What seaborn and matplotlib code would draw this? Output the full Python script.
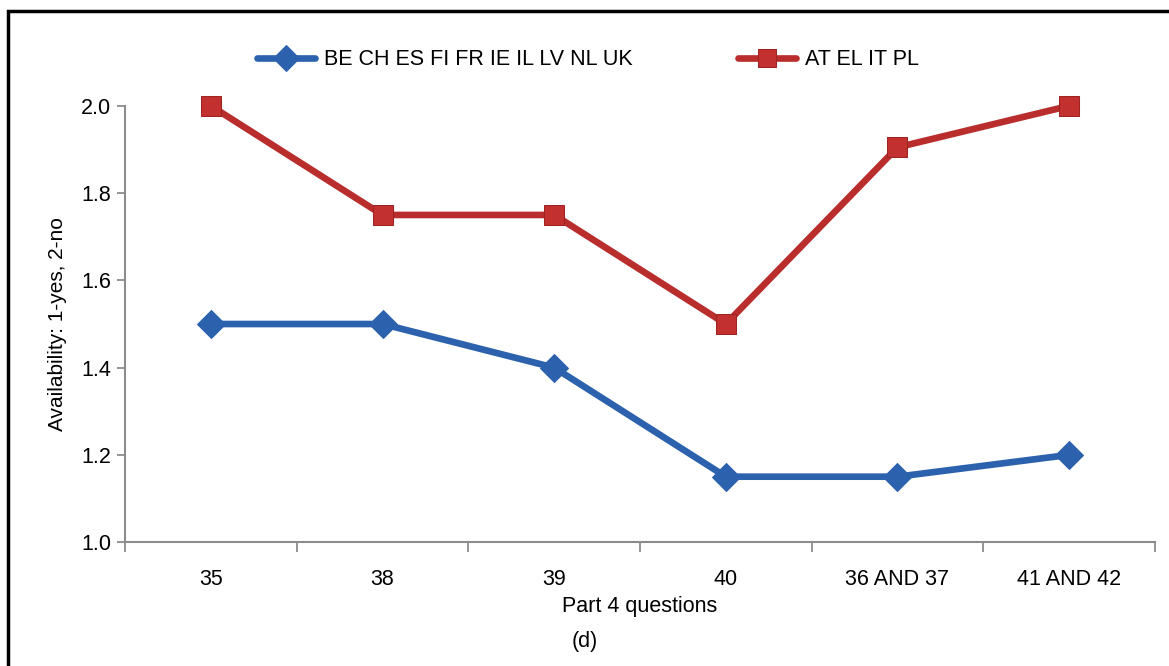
import pandas as pd
import matplotlib.pyplot as plt
import seaborn as sns
from matplotlib.patches import Rectangle
from matplotlib.ticker import FixedLocator

questions = ["35", "38", "39", "40", "36 AND 37", "41 AND 42"]
group_a = "BE CH ES FI FR IE IL LV NL UK"
group_b = "AT EL IT PL"
values_a = [1.5, 1.5, 1.4, 1.15, 1.15, 1.2]
values_b = [2.0, 1.75, 1.75, 1.5, 1.905, 2.0]

df = pd.DataFrame({
    "question": questions * 2,
    "value": values_a + values_b,
    "group": [group_a] * len(questions) + [group_b] * len(questions),
})

sns.set_style("white")
plt.rcParams['font.family'] = ['Liberation Sans', 'DejaVu Sans']
plt.rcParams['text.color'] = 'black'
plt.rcParams['axes.labelcolor'] = 'black'
plt.rcParams['xtick.labelcolor'] = 'black'
plt.rcParams['ytick.labelcolor'] = 'black'

fig = plt.figure(figsize=(11.69, 6.66), dpi=100)
ax = fig.add_axes([0.107, 0.186, 0.881, 0.655])

blue = "#2c62ad"
red = "#b92d2d"
sns.lineplot(data=df, x="question", y="value", hue="group", style="group",
             palette={group_a: blue, group_b: red},
             markers={group_a: "D", group_b: "s"}, dashes=False,
             markersize=14, linewidth=4.8, sort=False, ax=ax)

for line in ax.lines:
    line.set_clip_on(False)
    if line.get_color() == red:
        line.set_markeredgecolor("#9e2424")
        line.set_markerfacecolor("#c33030")
    else:
        line.set_markeredgecolor(blue)

ax.set_xlim(-0.5, len(questions) - 0.5)
ax.set_ylim(1.0, 2.0)
ax.set_yticks([1.0, 1.2, 1.4, 1.6, 1.8, 2.0])
ax.set_yticklabels(["1.0", "1.2", "1.4", "1.6", "1.8", "2.0"])
ax.xaxis.set_minor_locator(FixedLocator([i - 0.5 for i in range(len(questions) + 1)]))

grey = "#8c8c8c"
for side in ["top", "right"]:
    ax.spines[side].set_visible(False)
for side in ["left", "bottom"]:
    ax.spines[side].set_color(grey)
    ax.spines[side].set_linewidth(1.5)
ax.tick_params(axis="x", which="major", length=0, pad=19, labelsize=15.5)
ax.tick_params(axis="x", which="minor", length=7, width=1.3, color=grey, direction="out")
ax.tick_params(axis="y", length=6, width=1.3, color=grey, direction="out", labelsize=15.5, pad=4)
ax.tick_params(bottom=True, left=True, which="both")

ax.set_xlabel("Part 4 questions", fontsize=15.5, labelpad=5)
ax.set_ylabel("Availability: 1-yes, 2-no", fontsize=15, labelpad=10)
fig.text(0.5, 0.028, "(d)", ha="center", fontsize=15.5)

ax.legend(loc="center", bbox_to_anchor=(0.503, 0.91), bbox_transform=fig.transFigure,
          ncol=2, frameon=False, fontsize=15.5, handlelength=2.7, columnspacing=4.9,
          handletextpad=0.4, markerscale=0.95)

fig.patches.append(Rectangle((8 / 1169, -0.1), 1.2, 1 - 11 / 666 + 0.1,
                             transform=fig.transFigure, fill=False,
                             edgecolor="black", linewidth=2.5))

fig.savefig("out.png", dpi=100)
